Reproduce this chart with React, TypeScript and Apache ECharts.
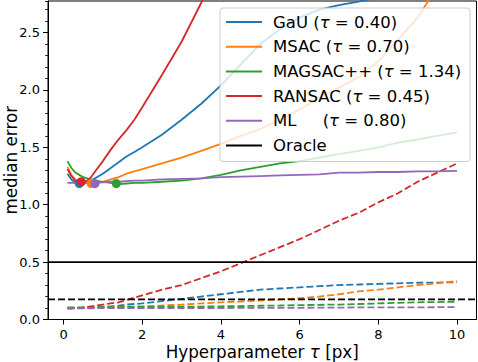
import React, { useEffect, useRef } from "react";
import * as echarts from "echarts";

// ---- data ----
const TAU = [0.1, 0.2, 0.3, 0.4, 0.5, 0.6, 0.7, 0.8, 1.0, 1.2, 1.4, 1.6, 1.8, 2.0, 2.5, 3.0, 3.5, 4.0, 4.5, 5.0, 5.5, 6.0, 6.5, 7.0, 7.5, 8.0, 8.5, 9.0, 9.5, 10.0];

// median error (solid)
const GAU_ERR = [1.27, 1.22, 1.19, 1.18, 1.185, 1.19, 1.21, 1.23, 1.27, 1.32, 1.37, 1.42, 1.46, 1.5, 1.61, 1.74, 1.88, 2.04, 2.22, 2.4, 2.53, 2.63, 2.7, 2.74, 2.77, 2.81, 2.86, 2.9, 2.95, 3.0];
const MSAC_ERR = [1.33, 1.26, 1.22, 1.2, 1.19, 1.19, 1.19, 1.19, 1.2, 1.22, 1.24, 1.27, 1.29, 1.31, 1.36, 1.41, 1.47, 1.53, 1.6, 1.66, 1.74, 1.83, 1.93, 2.02, 2.11, 2.25, 2.44, 2.63, 2.9, 3.15];
const MAGSAC_ERR = [1.38, 1.32, 1.28, 1.26, 1.24, 1.23, 1.22, 1.21, 1.2, 1.19, 1.18, 1.185, 1.19, 1.19, 1.2, 1.21, 1.23, 1.26, 1.3, 1.33, 1.36, 1.38, 1.41, 1.44, 1.47, 1.5, 1.54, 1.57, 1.6, 1.63];
const RANSAC_ERR = [1.31, 1.25, 1.21, 1.19, 1.19, 1.21, 1.24, 1.29, 1.38, 1.48, 1.57, 1.65, 1.74, 1.85, 2.13, 2.42, 2.76, 3.1];
const ML_ERR = [1.19, 1.19, 1.19, 1.19, 1.19, 1.19, 1.19, 1.19, 1.195, 1.2, 1.2, 1.205, 1.21, 1.21, 1.22, 1.225, 1.23, 1.24, 1.245, 1.25, 1.255, 1.26, 1.265, 1.28, 1.28, 1.285, 1.285, 1.29, 1.29, 1.295];

// second metric (dashed)
const GAU_DASH = [0.1, 0.1, 0.1, 0.1, 0.1, 0.102, 0.104, 0.105, 0.11, 0.115, 0.12, 0.13, 0.135, 0.14, 0.16, 0.18, 0.2, 0.22, 0.24, 0.26, 0.27, 0.28, 0.29, 0.3, 0.305, 0.31, 0.315, 0.32, 0.322, 0.325];
const MSAC_DASH = [0.1, 0.1, 0.1, 0.1, 0.1, 0.1, 0.1, 0.1, 0.105, 0.107, 0.109, 0.111, 0.113, 0.115, 0.122, 0.13, 0.14, 0.15, 0.157, 0.165, 0.175, 0.185, 0.2, 0.22, 0.245, 0.26, 0.28, 0.3, 0.315, 0.335];
const MAGSAC_DASH = [0.105, 0.105, 0.105, 0.105, 0.105, 0.105, 0.105, 0.105, 0.107, 0.108, 0.108, 0.109, 0.11, 0.11, 0.111, 0.112, 0.113, 0.115, 0.117, 0.12, 0.122, 0.125, 0.128, 0.13, 0.135, 0.14, 0.145, 0.15, 0.152, 0.155];
const RANSAC_DASH = [0.095, 0.095, 0.1, 0.1, 0.105, 0.11, 0.115, 0.12, 0.13, 0.14, 0.15, 0.17, 0.19, 0.21, 0.26, 0.3, 0.36, 0.42, 0.49, 0.56, 0.63, 0.7, 0.78, 0.86, 0.93, 1.02, 1.1, 1.2, 1.28, 1.36];
const ML_DASH = [0.098, 0.098, 0.098, 0.098, 0.098, 0.098, 0.098, 0.098, 0.099, 0.099, 0.099, 0.099, 0.1, 0.1, 0.1, 0.1, 0.1, 0.1, 0.101, 0.101, 0.102, 0.102, 0.103, 0.104, 0.105, 0.105, 0.106, 0.106, 0.107, 0.107];

const BEST_TAU = [0.4, 0.7, 1.34, 0.45, 0.8];
const BEST_ERR = [1.185, 1.185, 1.185, 1.2, 1.185];

const ORACLE_MEDIAN = 0.5;
const ORACLE_DASH = 0.176;

const METHOD_NAMES = ["GaU", "MSAC", "MAGSAC++", "RANSAC", "ML"];
const LEGEND_PREFIX = ["GaU", "MSAC", "MAGSAC++", "RANSAC", "ML\u00a0\u00a0\u00a0\u00a0"];
const COLORS = ["#1f77b4", "#ff7f0e", "#2ca02c", "#d62728", "#9467bd"];
const SOLID = [GAU_ERR, MSAC_ERR, MAGSAC_ERR, RANSAC_ERR, ML_ERR];
const DASHED = [GAU_DASH, MSAC_DASH, MAGSAC_DASH, RANSAC_DASH, ML_DASH];

const X_MIN = -0.395;
const X_MAX = 10.495;
const Y_MAX = 2.775;
const X_TICKS = [0, 2, 4, 6, 8, 10];
const Y_TICKS = [0, 0.5, 1.0, 1.5, 2.0, 2.5];

const FONT = "DejaVu Sans";

function toPairs(vals: number[]) {
  return TAU.slice(0, vals.length).map((t, i) => [t, vals[i]]);
}

export default function App() {
  const ref = useRef<HTMLDivElement>(null);

  useEffect(() => {
    if (!ref.current) return;
    const chart = echarts.init(ref.current, null, { renderer: "svg" });

    const series: any[] = [];
    METHOD_NAMES.forEach((name, k) => {
      series.push({
        type: "line",
        name,
        data: toPairs(SOLID[k]),
        symbol: "none",
        color: COLORS[k],
        lineStyle: { color: COLORS[k], width: 1.8 },
        itemStyle: { color: COLORS[k] },
        clip: true,
        z: 2,
      });
      series.push({
        type: "line",
        name: name + " dashed",
        data: toPairs(DASHED[k]),
        symbol: "none",
        color: COLORS[k],
        lineStyle: { color: COLORS[k], width: 1.8, type: [7, 3] },
        itemStyle: { color: COLORS[k] },
        clip: true,
        z: 2,
      });
      series.push({
        type: "scatter",
        name: name + " best",
        data: [[BEST_TAU[k], BEST_ERR[k]]],
        symbolSize: 9,
        itemStyle: { color: COLORS[k], opacity: 1 },
        z: 2,
      });
    });
    series.push({
      type: "line",
      name: "Oracle",
      data: [
        [X_MIN, ORACLE_MEDIAN],
        [X_MAX, ORACLE_MEDIAN],
      ],
      symbol: "none",
      color: "#000",
      lineStyle: { color: "#000", width: 1.8 },
      itemStyle: { color: "#000" },
      z: 2,
    });
    series.push({
      type: "line",
      name: "Oracle dashed",
      data: [
        [X_MIN, ORACLE_DASH],
        [X_MAX, ORACLE_DASH],
      ],
      symbol: "none",
      color: "#000",
      lineStyle: { color: "#000", width: 1.8, type: [7, 3] },
      itemStyle: { color: "#000" },
      z: 2,
    });

    const legendLabels: Record<string, string> = {};
    METHOD_NAMES.forEach((n, k) => {
      legendLabels[n] = `${LEGEND_PREFIX[k]} ({i|τ} = ${BEST_TAU[k].toFixed(2)})`;
    });
    legendLabels["Oracle"] = "Oracle";

    const option: any = {
      animation: false,
      textStyle: { fontFamily: FONT },
      grid: {
        left: 48,
        right: 1.5,
        top: 1,
        bottom: 42.5,
        containLabel: false,
        outerBoundsMode: "none",
        show: true,
        borderColor: "#000",
        borderWidth: 1,
        backgroundColor: "transparent",
      },
      legend: {
        orient: "vertical",
        left: 220,
        top: 8,
        data: [...METHOD_NAMES, "Oracle"],
        icon: "rect",
        itemWidth: 36,
        itemHeight: 2,
        itemGap: 4.7,
        padding: [4, 9, 6, 6],
        backgroundColor: "rgba(255,255,255,0.8)",
        borderColor: "#cccccc",
        borderWidth: 1,
        borderRadius: 3,
        selectedMode: false,
        formatter: (name: string) => legendLabels[name] ?? name,
        textStyle: {
          fontFamily: FONT,
          fontSize: 16.5,
          color: "#000",
          lineHeight: 20,
          padding: [0, 0, 0, 6],
          rich: {
            i: { fontFamily: FONT, fontSize: 16.5, fontStyle: "italic", color: "#000", lineHeight: 20 },
          },
        },
      },
      xAxis: {
        type: "value",
        min: X_MIN,
        max: X_MAX,
        axisLine: { show: true, onZero: false, lineStyle: { color: "#000", width: 1 } },
        axisTick: { show: true, customValues: X_TICKS, length: 5, lineStyle: { color: "#000", width: 1 } },
        axisLabel: { customValues: X_TICKS, fontSize: 13, color: "#000", margin: 8, fontFamily: FONT },
        splitLine: { show: false },
        name: "Hyperparameter {i|τ} [px]",
        nameLocation: "middle",
        nameGap: 24,
        nameMoveOverlap: false,
        nameTextStyle: {
          fontSize: 16.75,
          color: "#000",
          fontFamily: FONT,
          rich: { i: { fontSize: 16.75, fontStyle: "italic", fontFamily: FONT, color: "#000" } },
        },
      },
      yAxis: [
        {
          type: "value",
          min: 0,
          max: Y_MAX,
          position: "left",
          axisLine: { show: true, onZero: false, lineStyle: { color: "#000", width: 1 } },
          axisTick: { show: true, customValues: Y_TICKS, length: 5, lineStyle: { color: "#000", width: 1 } },
          axisLabel: {
            customValues: Y_TICKS,
            formatter: (v: number) => v.toFixed(1),
            fontSize: 13,
            color: "#000",
            margin: 8,
            fontFamily: FONT,
          },
          splitLine: { show: false },
          name: "median error",
          nameLocation: "middle",
          nameGap: 29,
          nameMoveOverlap: false,
          nameTextStyle: { fontSize: 16.75, color: "#000", fontFamily: FONT },
        },
        {
          type: "value",
          min: 0,
          max: Y_MAX,
          interval: 0.1,
          position: "left",
          axisLine: { show: false, onZero: false },
          axisTick: { show: true, length: 3, lineStyle: { color: "#000", width: 0.8 } },
          axisLabel: { show: false },
          splitLine: { show: false },
        },
      ],
      series,
    };

    chart.setOption(option);
    return () => chart.dispose();
  }, []);

  return (
    <div
      ref={ref}
      style={{ position: "absolute", left: 0, top: 0, width: 478, height: 362 }}
    />
  );
}
